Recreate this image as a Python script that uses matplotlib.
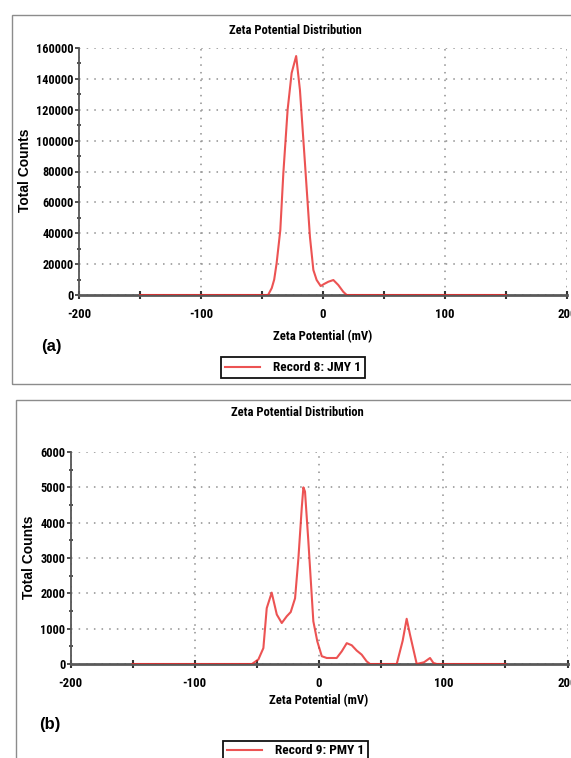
import matplotlib
matplotlib.use("Agg")
import matplotlib.pyplot as plt
from matplotlib.patches import Rectangle
from matplotlib.ticker import MultipleLocator

plt.rcParams['axes.unicode_minus'] = False
FONT = ['Roboto Condensed', 'Liberation Sans', 'DejaVu Sans']
plt.rcParams['font.family'] = FONT

# ---- data (a) ----
zeta_a = [-150, -45, -42, -40, -38, -35, -32.5, -29, -25.7, -22, -18.9, -14.8,
          -10.7, -7.9, -5.2, -1.9, 0.8, 4.4, 8.5, 12.5, 16.6, 19.4, 150]
counts_a = [0, 0, 4500, 10000, 20700, 42000, 79000, 120000, 143800, 154800,
            132800, 85500, 37600, 16200, 9700, 5800, 7100, 8600, 9700, 6500,
            2100, 0, 0]
# ---- data (b) ----
zeta_b = [-150, -54, -48.8, -44.8, -42.1, -38.1, -34, -30, -26, -22.8, -19.3,
          -16.6, -13.9, -12.6, -11.3, -8.6, -4.6, -1.4, 2.2, 6.2, 14.2, 18.3,
          22.3, 26.3, 30.3, 34.3, 38.3, 41, 62.5, 67.3, 70.5, 73.2, 78.6, 84.5,
          89.3, 92, 94.7, 150]
counts_b = [0, 0, 130, 450, 1580, 2020, 1400, 1160, 1350, 1470, 1860, 3000,
            4430, 5000, 4880, 3470, 1210, 640, 220, 170, 170, 360, 590, 530,
            380, 265, 75, 0, 0, 660, 1280, 830, 0, 50, 170, 30, 0, 0]

title = "Zeta Potential Distribution"
xlabel = "Zeta Potential (mV)"
ylabel = "Total Counts"
legend_a = "Record 8: JMY 1"
legend_b = "Record 9: PMY 1"

W, H = 571, 758
fig = plt.figure(figsize=(W / 100, H / 100), dpi=100)


def fx(x):
    return x / W


def fy(y):
    return 1 - y / H


def make_panel(left, right, top, bottom, x, y, ymax, ymaj, ymin, label,
               xlab_xy, ylab_xy, title_xy, tag_xy, tag, leg_xy, box):
    # panel frame
    fig.patches.append(Rectangle((fx(box[0]), fy(box[3])),
                                 fx(box[2] - box[0]), (box[3] - box[1]) / H,
                                 transform=fig.transFigure, fill=False,
                                 ec='#8c8c8c', lw=1.0))
    ax = fig.add_axes([fx(left), fy(bottom), fx(right - left),
                       (bottom - top) / H])
    ax.plot(x, y, color='#e82828', lw=1.5, alpha=0.8, zorder=5, label=label)
    ax.set_xlim(-200, 200)
    ax.set_ylim(0, ymax)
    ax.xaxis.set_major_locator(MultipleLocator(100))
    ax.xaxis.set_minor_locator(MultipleLocator(50))
    ax.yaxis.set_major_locator(MultipleLocator(ymaj))
    ax.yaxis.set_minor_locator(MultipleLocator(ymin))
    for s in ('top', 'right'):
        ax.spines[s].set_visible(False)
    ax.spines['left'].set_color('#555555')
    ax.spines['left'].set_linewidth(1.3)
    ax.spines['bottom'].set_color('#5a5a5a')
    ax.spines['bottom'].set_linewidth(2.0)
    ax.grid(True, which='major', color='#8f8f8f', lw=1.1,
            linestyle=(0, (1, 4)))
    ax.set_axisbelow(True)
    ax.tick_params(axis='x', which='major', direction='inout', length=6,
                   width=1.5, color='#333333', pad=6.5, labelsize=9.2)
    ax.tick_params(axis='x', which='minor', direction='inout', length=6,
                   width=1.5, color='#333333')
    ax.tick_params(axis='y', which='major', direction='out', length=3,
                   width=1.2, color='#333333', pad=0.8, labelsize=8.8)
    ax.tick_params(axis='y', which='minor', direction='inout', length=3,
                   width=1.2, color='#333333')
    for t in ax.get_xticklabels() + ax.get_yticklabels():
        t.set_fontweight('bold')
    fig.text(fx(title_xy[0]), fy(title_xy[1]), title, ha='center',
             va='center', fontsize=9.0, fontweight='bold')
    fig.text(fx(xlab_xy[0]), fy(xlab_xy[1]), xlabel, ha='center',
             va='center', fontsize=9.1, fontweight='bold')
    fig.text(fx(ylab_xy[0]), fy(ylab_xy[1]), ylabel, ha='center',
             va='center', rotation=90, fontsize=10, fontweight='bold',
             family=['Liberation Sans', 'DejaVu Sans'])
    fig.text(fx(tag_xy[0]), fy(tag_xy[1]), tag, ha='left', va='center',
             fontsize=12, fontweight='bold',
             family=['Liberation Sans', 'DejaVu Sans'])
    leg = ax.legend(loc='center', bbox_to_anchor=(fx(leg_xy[0]), fy(leg_xy[1])),
                    bbox_transform=fig.transFigure, frameon=True,
                    fancybox=False, edgecolor='#111111', framealpha=1,
                    handlelength=2.6, handletextpad=1.0, borderpad=0.3,
                    prop={'family': FONT, 'weight': 'bold', 'size': 9.6})
    leg.get_frame().set_linewidth(1.3)
    return ax


make_panel(79, 567, 48, 295, zeta_a, counts_a, 160000, 20000, 10000,
           legend_a, (323, 337), (25.5, 170), (295, 31), (41, 346),
           '(a)', (293, 368), (12, 15, 590, 384))
make_panel(70.5, 567.6, 452, 664, zeta_b, counts_b, 6000, 1000, 500,
           legend_b, (319, 701), (29, 557), (297, 413), (39, 724),
           '(b)', (295.5, 751), (16, 400, 590, 790))

fig.savefig('out.png', dpi=100)
